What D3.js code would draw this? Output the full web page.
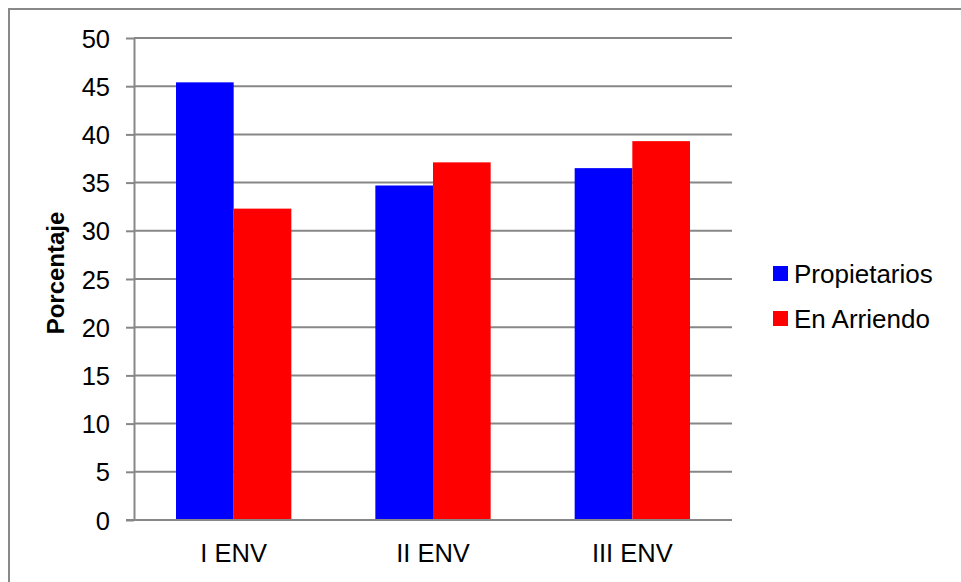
<!DOCTYPE html>
<html>
<head>
<meta charset="utf-8">
<script src="https://cdn.jsdelivr.net/npm/d3@7"></script>
<style>
  body { margin: 0; background: #fff; }
  svg { display: block; font-family: "Liberation Sans", Arial, sans-serif; }
  .axis path, .axis line { stroke: #878787; stroke-width: 2; }
  .axis text { fill: #000; font-size: 25.5px; }
  .grid line { stroke: #878787; stroke-width: 2; }
</style>
</head>
<body>
<svg id="chart" width="961" height="582"></svg>
<script>
// categories and series
var categories = ["I ENV", "II ENV", "III ENV"];
var seriesNames = ["Propietarios", "En Arriendo"];
var propietarios = [45.4, 34.7, 36.5];
var enArriendo = [32.3, 37.1, 39.3];
var colors = ["#0000ff", "#ff0000"];
var yTicks = [0, 5, 10, 15, 20, 25, 30, 35, 40, 45, 50];

var margin = {top: 38, left: 134, right: 229, bottom: 62},
    width = 961 - margin.left - margin.right,
    height = 582 - margin.top - margin.bottom;

var svg = d3.select("#chart");

// outer chart border (runs off the bottom/right edge)
svg.append("rect")
    .attr("x", 9)
    .attr("y", 9)
    .attr("width", 1000)
    .attr("height", 1000)
    .attr("fill", "none")
    .attr("stroke", "#898989")
    .attr("stroke-width", 2);

var g = svg.append("g")
    .attr("transform", "translate(" + margin.left + "," + margin.top + ")");

var x0 = d3.scaleBand().domain(categories).range([0, width])
    .paddingInner(0.4215).paddingOuter(0.21075);
var x1 = d3.scaleBand().domain(seriesNames).range([0, x0.bandwidth()]).padding(0);
var y = d3.scaleLinear().domain([0, 50]).range([height, 0]);

var rows = categories.map(function(c, i) {
  return {cat: c, values: [propietarios[i], enArriendo[i]]};
});

// gridlines
g.append("g")
    .attr("class", "grid")
  .selectAll("line")
    .data(yTicks)
  .enter().append("line")
    .attr("x1", 0)
    .attr("x2", width)
    .attr("y1", function(d) { return y(d); })
    .attr("y2", function(d) { return y(d); });

// bars
g.selectAll(".group")
    .data(rows)
  .enter().append("g")
    .attr("class", "group")
    .attr("transform", function(d) { return "translate(" + x0(d.cat) + ",0)"; })
  .selectAll("rect")
    .data(function(d) { return d.values.map(function(v, i) { return {name: seriesNames[i], v: v, i: i}; }); })
  .enter().append("rect")
    .attr("x", function(d) { return x1(d.name); })
    .attr("y", function(d) { return y(d.v); })
    .attr("width", x1.bandwidth())
    .attr("height", function(d) { return height - y(d.v); })
    .attr("fill", function(d) { return colors[d.i]; });

// y axis
var yAxis = g.append("g")
    .attr("class", "axis")
    .call(d3.axisLeft(y).tickValues(yTicks).tickSize(8).tickSizeOuter(0).tickPadding(16));
yAxis.selectAll("text").attr("dy", "0.36em");

// x axis baseline
g.append("line")
    .attr("x1", -8)
    .attr("x2", width)
    .attr("y1", height)
    .attr("y2", height)
    .attr("stroke", "#878787")
    .attr("stroke-width", 2);

// category labels
g.selectAll(".cat")
    .data(categories)
  .enter().append("text")
    .attr("class", "cat")
    .attr("x", function(d) { return x0(d) + x0.bandwidth() / 2; })
    .attr("y", height + 41.5)
    .attr("text-anchor", "middle")
    .style("font-size", "25.5px")
    .text(String);

// y axis title
svg.append("text")
    .attr("transform", "translate(64," + 273 + ") rotate(-90)")
    .attr("text-anchor", "middle")
    .style("font-size", "24px")
    .style("font-weight", "bold")
    .text("Porcentaje");

// legend
var legend = svg.selectAll(".legend")
    .data(seriesNames)
  .enter().append("g")
    .attr("class", "legend")
    .attr("transform", function(d, i) { return "translate(773," + (266 + i * 45) + ")"; });

legend.append("rect")
    .attr("width", 15)
    .attr("height", 15)
    .attr("fill", function(d, i) { return colors[i]; });

legend.append("text")
    .attr("x", 21)
    .attr("y", 16.5)
    .style("font-size", "26px")
    .text(String);
</script>
</body>
</html>
